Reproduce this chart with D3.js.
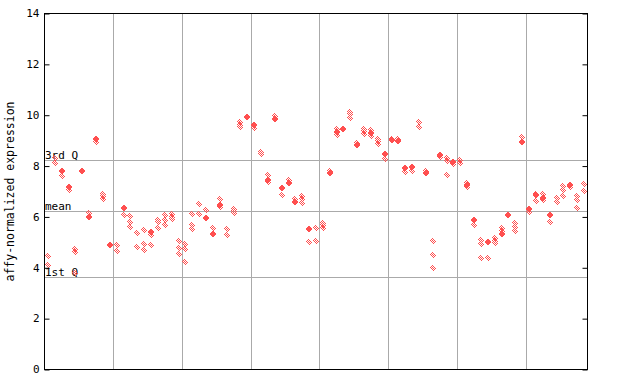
<!DOCTYPE html>
<html><head><meta charset="utf-8">
<script src="https://cdn.jsdelivr.net/npm/d3@7"></script>
<style>body{margin:0;background:#fff}svg{display:block}text{font-family:"DejaVu Sans Mono",monospace}</style>
</head><body><svg id="c" width="640" height="384"></svg>
<script>
// replicate values drawn as checkered diamonds, per sample column
const checkered = [
 [4.45,4.09],[8.33,8.13],[7.62],[7.04],[4.72,4.61,3.78],[],[6.16],[8.96],[6.92,6.81,6.70],[],
 [4.88,4.65],[6.07],[6.04,5.80,5.62],[5.35,4.83],[5.47,4.93,4.68],[5.30,4.89],[5.89,5.79,5.58],[6.07,5.87,5.68],[6.13,6.01,5.90],[5.05,4.76,4.56],
 [4.93,4.72,4.22],[6.13,5.68,5.51],[6.49,6.11],[6.29],[5.58],[6.69,6.38],[5.51,5.27],[6.32,6.24,6.15],[9.75,9.63,9.53],[],
 [9.51],[8.55,8.46],[7.65,7.36],[9.96],[6.88],[7.44],[6.72],[6.81,6.69,6.56],[5.00],[5.55,5.07],
 [5.78,5.67,5.56],[7.82],[9.44,9.24],[],[10.13,10.03,9.91],[8.91],[9.44,9.37,9.27],[9.41,9.20],[9.08,8.97,8.85],[8.26],
 [9.07],[9.08],[7.75],[7.82],[9.75,9.52],[7.82],[5.07,4.52,4.01],[8.34],[8.30,8.19,7.63],[8.07],
 [8.22,8.11],[7.35,7.16],[5.70],[5.11,4.92,4.37],[4.37],[5.16,5.07,4.98],[5.56,5.44],[],[5.78,5.61,5.43],[9.13],
 [6.18],[6.92,6.61],[6.89,6.66],[5.82],[6.76,6.57],[7.20,7.05,6.84],[7.16],[6.82,6.66,6.37],[7.29,7.01]
];
// values drawn as solid diamonds, per sample column
const filled = [
 [],[],[7.80],[7.18],[],[7.80],[6.00],[9.07],[],[4.91],
 [],[6.36],[],[],[],[5.40],[],[],[],[],
 [],[],[],[5.96],[5.31],[6.48],[],[],[],[9.93],
 [9.62],[],[7.46],[9.86],[7.14],[7.35],[6.59],[],[5.53],[],
 [],[7.71],[9.34],[9.46],[],[8.81],[],[9.29],[],[8.48],
 [9.01],[8.99],[7.93],[7.96],[],[7.74],[],[8.44],[],[8.17],
 [],[7.25],[5.88],[],[5.02],[],[5.31],[6.09],[],[8.95],
 [6.32],[6.85],[6.75],[6.08],[],[],[7.25],[],[]
];
const yTicks = [0,2,4,6,8,10,12,14];
const refLines = [{label:"3rd Q", v:8.23},{label:"mean", v:6.23},{label:"1st Q", v:3.62}];
const groupSize = 10;

const svg = d3.select("#c");
const L=44.5, R=587.5, T=13.5, B=369.5;
const n = checkered.length;
const x = d3.scaleLinear().domain([0,n]).range([L,R]);
const y = d3.scaleLinear().domain([0,14]).range([B,T]);
const red = "#ff4f4f", grid = "#aaaaaa";

const defs = svg.append("defs");
const pat = defs.append("pattern").attr("id","chk").attr("patternUnits","userSpaceOnUse")
  .attr("width",2).attr("height",2);
pat.append("rect").attr("x",0).attr("y",0).attr("width",1).attr("height",1).attr("fill",red);
pat.append("rect").attr("x",1).attr("y",1).attr("width",1).attr("height",1).attr("fill",red);

// vertical group separators
const seps = d3.range(groupSize, n, groupSize);
svg.append("g").selectAll("line").data(seps).join("line")
  .attr("x1",d=>Math.round(x(d))+0.5).attr("x2",d=>Math.round(x(d))+0.5)
  .attr("y1",T).attr("y2",B).attr("stroke",grid);

// reference lines
svg.append("g").selectAll("line").data(refLines).join("line")
  .attr("x1",L).attr("x2",R).attr("y1",d=>Math.round(y(d.v))+0.5).attr("y2",d=>Math.round(y(d.v))+0.5)
  .attr("stroke",grid);
svg.append("g").selectAll("text").data(refLines).join("text")
  .attr("x",L+0.5).attr("y",d=>Math.round(y(d.v))-1.5).attr("font-size",11).attr("fill","#000")
  .text(d=>d.label);

// points
const diamond = "M0,-3.5L3.5,0L0,3.5L-3.5,0Z";
const cpts = [], fpts = [];
checkered.forEach((vals,i)=>vals.forEach(v=>cpts.push({i,v})));
filled.forEach((vals,i)=>vals.forEach(v=>fpts.push({i,v})));
svg.append("g").selectAll("path").data(cpts).join("path")
  .attr("d",diamond).attr("shape-rendering","crispEdges")
  .attr("transform",d=>`translate(${Math.round(x(d.i+0.5))},${Math.round(y(d.v))})`)
  .attr("fill","url(#chk)");
svg.append("g").selectAll("path").data(fpts).join("path")
  .attr("d",diamond).attr("shape-rendering","crispEdges")
  .attr("transform",d=>`translate(${Math.round(x(d.i+0.5))},${Math.round(y(d.v))})`)
  .attr("fill",red);

// frame
svg.append("rect").attr("x",L).attr("y",T).attr("width",R-L).attr("height",B-T)
  .attr("fill","none").attr("stroke","#000");

// left axis (ticks inside)
const la = svg.append("g").attr("transform",`translate(${L},0)`)
  .call(d3.axisRight(y).tickValues(yTicks).tickSize(5).tickFormat(""));
la.select(".domain").remove();
la.selectAll("line").attr("stroke","#000");
svg.append("g").selectAll("text").data(yTicks).join("text")
  .attr("x",L-5).attr("y",d=>y(d)).attr("dy","0.35em").attr("text-anchor","end")
  .attr("font-size",11).text(d=>d);
// right axis ticks (inside)
const ra = svg.append("g").attr("transform",`translate(${R},0)`)
  .call(d3.axisLeft(y).tickValues(yTicks).tickSize(5).tickFormat(""));
ra.select(".domain").remove();
ra.selectAll("line").attr("stroke","#000");

// y title
svg.append("text").attr("transform",`translate(14,${(T+B)/2}) rotate(-90)`)
  .attr("text-anchor","middle").attr("font-size",11.5).text("affy-normalized expression");
</script></body></html>
